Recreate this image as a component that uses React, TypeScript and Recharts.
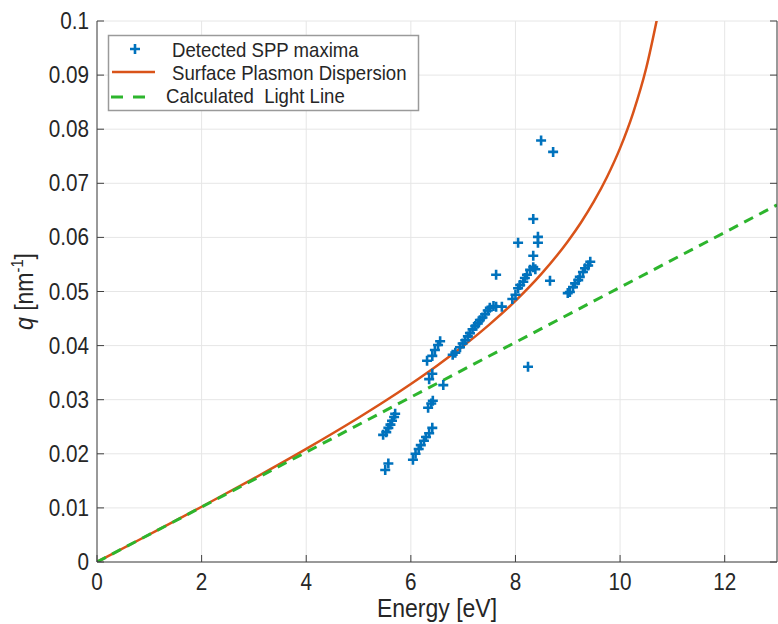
import { ComposedChart, Line, Scatter, XAxis, YAxis, CartesianGrid, Label } from 'recharts';

// detected SPP maxima (energy in eV, q in nm^-1)
const sppEnergy = [
  5.47, 5.53, 5.57, 5.61, 5.64, 5.68, 5.70, 5.51, 5.57,
  6.04, 6.09, 6.15, 6.19, 6.25, 6.29, 6.35, 6.41,
  6.33, 6.39, 6.42, 6.35, 6.41, 6.31, 6.41, 6.46, 6.52, 6.56, 6.62,
  6.80, 6.85, 6.94, 6.99, 7.04, 7.09, 7.13, 7.18, 7.23, 7.28, 7.32, 7.37, 7.42, 7.47, 7.51, 7.58, 7.63, 7.74,
  7.94, 8.00, 8.05, 8.09, 8.15, 8.18, 8.22, 8.28, 8.34, 8.38,
  7.63, 8.05, 8.34, 8.43, 8.43, 8.34, 8.66, 8.49, 8.72, 8.24,
  9.00, 9.04, 9.10, 9.14, 9.20, 9.23, 9.29, 9.33, 9.39, 9.43,
];
const sppQ = [
  0.0235, 0.0240, 0.0248, 0.0254, 0.0261, 0.0268, 0.0274, 0.0170, 0.0182,
  0.0189, 0.0200, 0.0209, 0.0216, 0.0224, 0.0231, 0.0238, 0.0248,
  0.0285, 0.0293, 0.0298, 0.0338, 0.0348, 0.0372, 0.0381, 0.0392, 0.0401, 0.0408, 0.0327,
  0.0383, 0.0387, 0.0397, 0.0404, 0.0410, 0.0417, 0.0423, 0.0430, 0.0436, 0.0441, 0.0447, 0.0452, 0.0458, 0.0465, 0.0470, 0.0473, 0.0472, 0.0472,
  0.0486, 0.0494, 0.0506, 0.0512, 0.0518, 0.0525, 0.0531, 0.0540, 0.0545, 0.0541,
  0.0531, 0.0590, 0.0634, 0.0590, 0.0601, 0.0566, 0.0520, 0.0779, 0.0758, 0.0361,
  0.0497, 0.0499, 0.0508, 0.0515, 0.0521, 0.0527, 0.0536, 0.0543, 0.0548, 0.0555,
];

// surface plasmon dispersion curve
const dispEnergy = [0, 1, 2, 3, 4, 5, 5.5, 6, 6.5, 7, 7.5, 8, 8.5, 9, 9.25, 9.5, 9.75, 10, 10.25, 10.5, 10.75];
const dispQ = [
  0, 0.00508, 0.01021, 0.01546, 0.02091, 0.02666, 0.0297, 0.0329, 0.03628, 0.03991, 0.04387,
  0.04827, 0.0533, 0.05925, 0.06271, 0.06664, 0.07117, 0.0765, 0.08303, 0.09131, 0.10245,
];

// light line
const lightEnergy = [0, 13];
const lightQ = [0, 0.066];

const xTicks = [0, 2, 4, 6, 8, 10, 12];
const yTicks = [0, 0.01, 0.02, 0.03, 0.04, 0.05, 0.06, 0.07, 0.08, 0.09, 0.1];

const BLUE = '#0072BD';
const ORANGE = '#D95319';
const GREEN = '#2DB52D';
const AXIS = '#404040';
const TEXT = '#262626';
const FONT = '"Liberation Sans", Arial, sans-serif';

const sppData = sppEnergy.map((x, i) => ({ x, y: sppQ[i] }));
const dispData = dispEnergy.map((x, i) => ({ x, y: dispQ[i] }));
const lightData = lightEnergy.map((x, i) => ({ x, y: lightQ[i] }));

const fmtY = (v: number) => (v === 0 ? '0' : String(+v.toFixed(2)));

function BottomTick({ x, y, payload }: any) {
  return (
    <g>
      <line x1={x} x2={x} y1={y} y2={y - 7} stroke={AXIS} />
      <text transform={`translate(${x},${y + 28}) scale(0.9,1)`} textAnchor="middle" fontSize={23} fontFamily={FONT} fill={TEXT}>
        {payload.value}
      </text>
    </g>
  );
}

function TopTick({ x, y }: any) {
  return <line x1={x} x2={x} y1={y} y2={y + 7} stroke={AXIS} />;
}

function LeftTick({ x, y, payload }: any) {
  return (
    <g>
      <line x1={x} x2={x + 7} y1={y} y2={y} stroke={AXIS} />
      <text transform={`translate(${x - 8},${y + 8}) scale(0.9,1)`} textAnchor="end" fontSize={23} fontFamily={FONT} fill={TEXT}>
        {fmtY(payload.value)}
      </text>
    </g>
  );
}

function RightTick({ x, y }: any) {
  return <line x1={x} x2={x - 7} y1={y} y2={y} stroke={AXIS} />;
}

function Plus({ cx, cy }: any) {
  if (cx == null || cy == null) return null;
  return <path d={`M${cx - 5},${cy}h10M${cx},${cy - 5}v10`} stroke={BLUE} strokeWidth={2.6} fill="none" />;
}

function Legend() {
  return (
    <svg width={778} height={624} style={{ position: 'absolute', left: 0, top: 0, pointerEvents: 'none' }}>
      <rect x={108.5} y={35.5} width={310} height={75} fill="#fff" stroke="#9a9a9a" strokeWidth={1.5} />
      <path d="M130,49h10M135,44v10" stroke={BLUE} strokeWidth={2.6} />
      <line x1={112} x2={155} y1={72} y2={72} stroke={ORANGE} strokeWidth={2.5} />
      <line x1={111} x2={148} y1={97} y2={97} stroke={GREEN} strokeWidth={3} strokeDasharray="12 10" />
      <g fontSize={20} fontFamily={FONT} fill={TEXT}>
        <text transform="translate(172,57) scale(0.93,1)">Detected SPP maxima</text>
        <text transform="translate(172,80) scale(0.93,1)">Surface Plasmon Dispersion</text>
        <text transform="translate(166,103) scale(0.93,1)">{'Calculated\u00a0 Light Line'}</text>
      </g>
    </svg>
  );
}

export default function App() {
  return (
    <div style={{ position: 'relative', width: 778, height: 624, background: '#fff' }}>
      <style>{'body{margin:0}'}</style>
      <ComposedChart width={778} height={624} margin={{ top: 21, right: 0, left: 0, bottom: 0 }}>
        <CartesianGrid xAxisId="b" yAxisId="l" stroke="#e6e6e6" />
        <XAxis
          xAxisId="b"
          type="number"
          dataKey="x"
          domain={[0, 13]}
          ticks={xTicks}
          allowDataOverflow
          height={62}
          tickSize={0}
          tickMargin={0}
          tick={<BottomTick />}
          axisLine={{ stroke: AXIS }}
          tickLine={false}
        >
          <Label
            content={({ viewBox }: any) => (
              <text
                transform={`translate(${viewBox.x + viewBox.width / 2},${viewBox.y + 55}) scale(0.92,1)`}
                textAnchor="middle"
                fontSize={25}
                fontFamily={FONT}
                fill={TEXT}
              >
                Energy [eV]
              </text>
            )}
          />
        </XAxis>
        <XAxis
          xAxisId="t"
          orientation="top"
          type="number"
          dataKey="x"
          domain={[0, 13]}
          ticks={xTicks}
          allowDataOverflow
          height={0}
          tickSize={0}
          tickMargin={0}
          tick={<TopTick />}
          axisLine={{ stroke: AXIS }}
          tickLine={false}
        />
        <YAxis
          yAxisId="l"
          type="number"
          dataKey="y"
          domain={[0, 0.1]}
          ticks={yTicks}
          allowDataOverflow
          width={97}
          tickSize={0}
          tickMargin={0}
          tick={<LeftTick />}
          axisLine={{ stroke: AXIS }}
          tickLine={false}
        >
          <Label
            content={({ viewBox }: any) => {
              const cx = 33;
              const cy = viewBox.y + viewBox.height / 2;
              return (
                <text transform={`translate(${cx},${cy}) rotate(-90) scale(0.92,1)`} textAnchor="middle" fontSize={25} fontFamily={FONT} fill={TEXT}>
                  <tspan fontStyle="italic">q</tspan>
                  <tspan> [nm</tspan>
                  <tspan fontSize={16} dy={-10}>-1</tspan>
                  <tspan dy={10}>]</tspan>
                </text>
              );
            }}
          />
        </YAxis>
        <YAxis
          yAxisId="r"
          orientation="right"
          type="number"
          domain={[0, 0.1]}
          ticks={yTicks}
          allowDataOverflow
          width={1}
          tickSize={0}
          tickMargin={0}
          tick={<RightTick />}
          axisLine={{ stroke: AXIS }}
          tickLine={false}
        />
        <Scatter xAxisId="b" yAxisId="l" data={sppData} dataKey="y" shape={<Plus />} isAnimationActive={false} />
        <Line
          xAxisId="b"
          yAxisId="l"
          data={dispData}
          dataKey="y"
          type="monotone"
          stroke={ORANGE}
          strokeWidth={2.5}
          dot={false}
          activeDot={false}
          isAnimationActive={false}
        />
        <Line
          xAxisId="b"
          yAxisId="l"
          data={lightData}
          dataKey="y"
          type="linear"
          stroke={GREEN}
          strokeWidth={3}
          strokeDasharray="10 7"
          dot={false}
          activeDot={false}
          isAnimationActive={false}
        />
      </ComposedChart>
      <Legend />
    </div>
  );
}
